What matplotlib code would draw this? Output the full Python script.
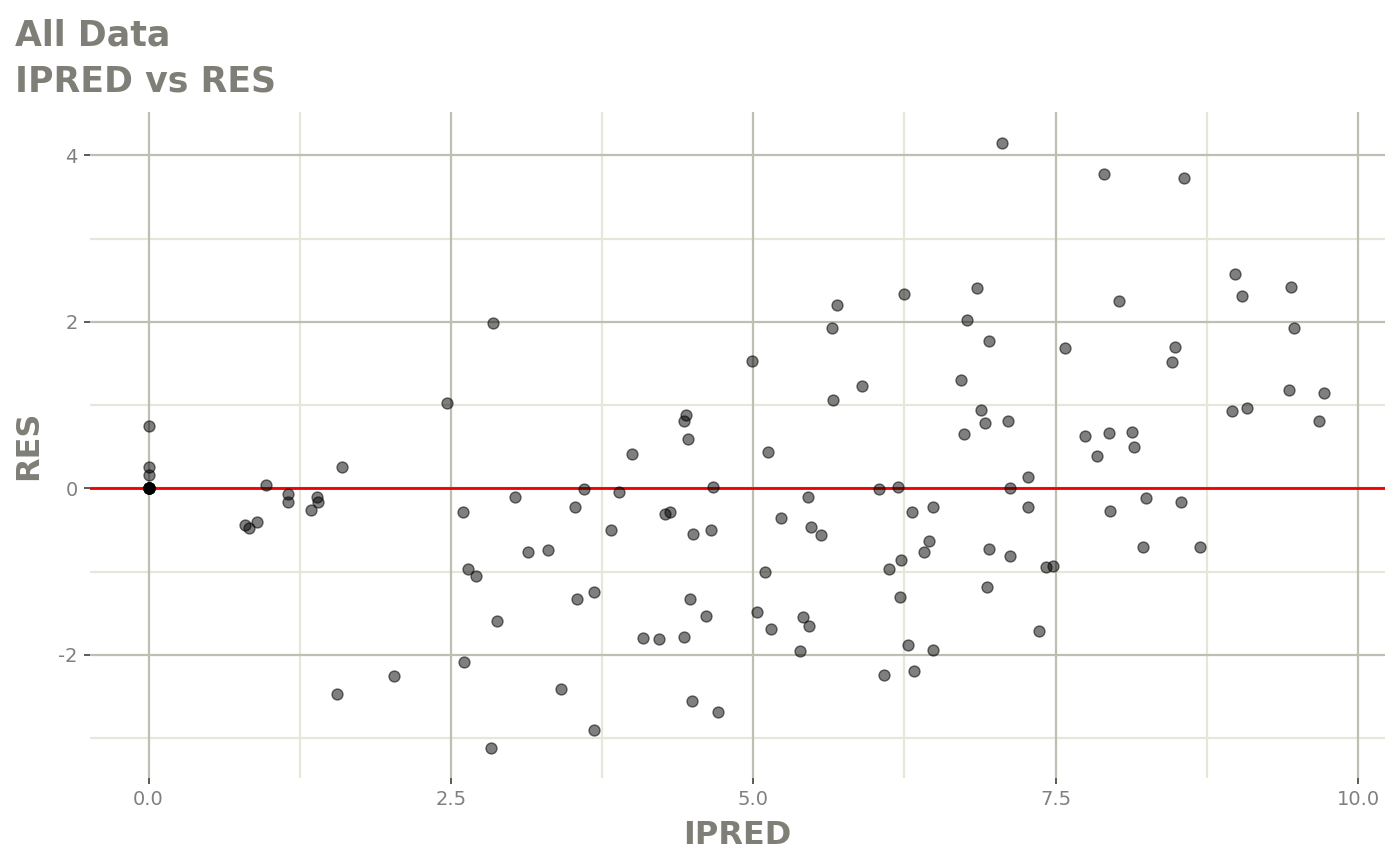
import numpy as np
import matplotlib
matplotlib.use("Agg")
import matplotlib.pyplot as plt

# IPRED / RES values
ipred = [0, 0, 0, 0, 0, 0, 0, 0, 0, 0, 0,
         0.80, 0.835, 0.90, 0.97, 1.15, 1.15, 1.39, 1.40, 1.34, 1.60, 1.56,
         2.03, 2.47, 2.60, 2.64, 2.71, 2.88, 2.61, 2.83, 2.85, 3.03, 3.14,
         3.60, 3.53, 3.30, 3.89, 3.82, 4.00, 4.44, 4.43, 4.46, 4.31, 4.27,
         4.50, 4.65, 4.67, 3.54, 3.68, 4.09, 4.22, 4.43, 4.48, 4.61, 3.41,
         3.68, 4.49, 4.71, 4.99, 5.12, 5.10, 5.03, 5.15, 5.23, 5.45, 5.48,
         5.56, 5.41, 5.46, 5.39, 5.65, 5.69, 5.66, 5.90, 6.04, 6.20, 6.31,
         6.49, 6.45, 6.41, 6.22, 6.12, 6.21, 6.28, 6.49, 6.08, 6.33, 6.25,
         6.72, 6.74, 6.77, 6.85, 6.95, 6.88, 6.92, 7.11, 7.12, 7.27, 7.27,
         6.95, 7.12, 6.93, 7.42, 7.48, 7.36, 7.06, 7.58, 7.74, 7.94, 8.13,
         7.84, 8.15, 8.25, 7.95, 8.54, 8.22, 8.69, 7.90, 8.02, 8.49, 8.46,
         8.56, 8.96, 9.08, 9.43, 9.72, 9.68, 8.98, 9.04, 9.45, 9.47]
res = [0.745, 0.25, 0.155, 0, 0, 0, 0, 0, 0, 0, 0,
       -0.44, -0.48, -0.41, 0.04, -0.07, -0.17, -0.11, -0.16, -0.26, 0.26, -2.47,
       -2.25, 1.03, -0.28, -0.97, -1.05, -1.59, -2.09, -3.12, 1.98, -0.11, -0.76,
       -0.01, -0.23, -0.74, -0.05, -0.50, 0.41, 0.88, 0.81, 0.59, -0.28, -0.31,
       -0.55, -0.50, 0.02, -1.33, -1.25, -1.80, -1.81, -1.79, -1.33, -1.53, -2.41,
       -2.90, -2.55, -2.69, 1.53, 0.44, -1.00, -1.49, -1.69, -0.36, -0.10, -0.46,
       -0.56, -1.55, -1.66, -1.96, 1.93, 2.20, 1.06, 1.23, -0.01, 0.02, -0.29,
       -0.23, -0.63, -0.77, -0.86, -0.97, -1.30, -1.88, -1.94, -2.24, -2.20, 2.33,
       1.30, 0.65, 2.02, 2.40, 1.77, 0.94, 0.78, 0.81, 0.00, 0.14, -0.23,
       -0.73, -0.81, -1.19, -0.95, -0.93, -1.71, 4.15, 1.68, 0.63, 0.67, 0.68,
       0.39, 0.50, -0.12, -0.27, -0.16, -0.70, -0.70, 3.78, 2.25, 1.70, 1.52,
       3.73, 0.93, 0.97, 1.18, 1.14, 0.81, 2.57, 2.31, 2.42, 1.93]

x_major = [0, 2.5, 5, 7.5, 10]
x_labels = ["0.0", "2.5", "5.0", "7.5", "10.0"]
x_minor = [1.25, 3.75, 6.25, 8.75]
y_major = [-2, 0, 2, 4]
y_labels = ["-2", "0", "2", "4"]
y_minor = [-3, -1, 1, 3]

txt_col = "#7f7f77"
major_col = "#bebeb2"
minor_col = "#e6e6da"

fig = plt.figure(figsize=(14, 8.66), dpi=100)
ax = fig.add_axes([0.064, 0.1016, 0.925, 0.7691])

ax.set_xlim(-0.487, 10.22)
ax.set_ylim(-3.48, 4.52)

for v in x_minor:
    ax.axvline(v, color=minor_col, lw=1.6, zorder=0)
for v in y_minor:
    ax.axhline(v, color=minor_col, lw=1.6, zorder=0)
for v in x_major:
    ax.axvline(v, color=major_col, lw=1.6, zorder=0)
for v in y_major:
    ax.axhline(v, color=major_col, lw=1.6, zorder=0)

ax.axhline(0, color="#ee0000", lw=2.0, zorder=2)
ax.scatter(ipred, res, s=62, facecolor=(0, 0, 0, 0.5), edgecolor=(0, 0, 0, 0.55),
           linewidths=1.0, zorder=3)

ax.set_xticks(x_major)
ax.set_xticklabels(x_labels)
ax.set_yticks(y_major)
ax.set_yticklabels(y_labels)
ax.tick_params(axis="both", length=4.5, width=1.4, color="#5a5a5a",
               labelcolor="#808080", labelsize=14, pad=4)

for s in ax.spines.values():
    s.set_visible(False)

ax.set_xlabel("IPRED", fontsize=23, fontweight="bold", color=txt_col, labelpad=8)
ax.set_ylabel("RES", fontsize=23, fontweight="bold", color=txt_col, labelpad=10)

fig.text(0.011, 0.979, "All Data\nIPRED vs RES", fontsize=25, fontweight="bold",
         color=txt_col, ha="left", va="top", linespacing=1.45)

fig.savefig("out.png", dpi=100)
